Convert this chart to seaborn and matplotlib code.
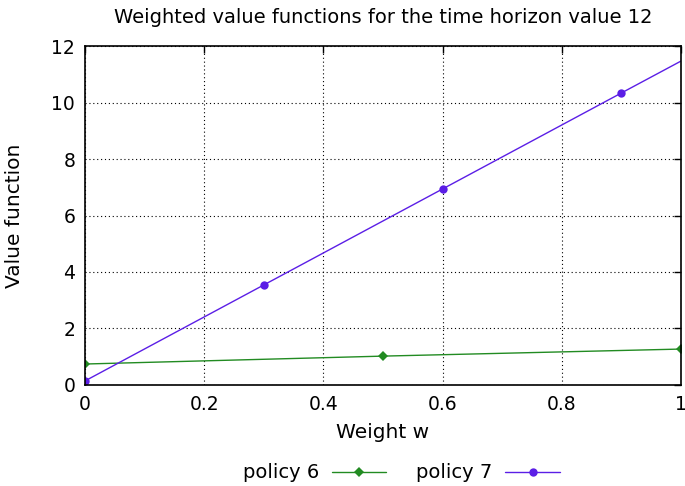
import numpy as np
import pandas as pd
import matplotlib
matplotlib.use("Agg")
import matplotlib.pyplot as plt
import seaborn as sns

# values
weights_p6 = [0.0, 0.5, 1.0]
values_p6 = [0.74, 1.02, 1.27]
weights_p7 = [0.0, 0.3, 0.6, 0.9, 1.0]
values_p7 = [0.14, 3.54, 6.94, 10.34, 11.47]
marked_p7 = [0, 1, 2, 3]

x_ticks = [0, 0.2, 0.4, 0.6, 0.8, 1]
x_tick_labels = ["0", "0.2", "0.4", "0.6", "0.8", "1"]
y_ticks = [0, 2, 4, 6, 8, 10, 12]

GREEN = "#228b22"
PURPLE = "#5b1ee6"

sns.set_style("white")
plt.rcParams['font.family'] = ['DejaVu Sans']
plt.rcParams['text.color'] = 'black'
plt.rcParams['axes.labelcolor'] = 'black'
plt.rcParams['xtick.color'] = 'black'
plt.rcParams['ytick.color'] = 'black'

fig = plt.figure(figsize=(6.85, 4.86), dpi=100)
ax = fig.add_axes([0.124, 0.208, 0.87, 0.697])

df6 = pd.DataFrame({"w": weights_p6, "v": values_p6})
df7 = pd.DataFrame({"w": weights_p7, "v": values_p7})

sns.lineplot(data=df6, x="w", y="v", ax=ax, color=GREEN, lw=1,
             marker="D", markersize=5, markeredgewidth=0, label="policy 6")
sns.lineplot(data=df7, x="w", y="v", ax=ax, color=PURPLE, lw=1,
             marker="o", markersize=6, markeredgewidth=0, markevery=marked_p7,
             label="policy 7")

ax.set_xlim(0, 1)
ax.set_ylim(0, 12)
ax.set_xticks(x_ticks)
ax.set_xticklabels(x_tick_labels)
ax.set_yticks(y_ticks)
ax.tick_params(direction="in", top=True, right=True, labelsize=13.5, length=5,
               width=1, pad=7, color="black")
ax.grid(True, color="black", linestyle=(0, (1, 2.5)), linewidth=0.8)
for s in ax.spines.values():
    s.set_color("black")
    s.set_linewidth(1.2)

ax.set_xlabel("Weight w", fontsize=14.5, labelpad=7)
ax.set_ylabel("Value function", fontsize=14.5, labelpad=20)
ax.set_title("Weighted value functions for the time horizon value 12",
             fontsize=14, pad=17)

handles, labels = ax.get_legend_handles_labels()
ax.get_legend().remove()
fig.legend(handles, labels, loc="center", ncol=2, frameon=False,
           markerfirst=False, fontsize=14, handlelength=2.8,
           handletextpad=0.65, columnspacing=1.55,
           bbox_to_anchor=(0.586, 0.027))

fig.savefig("out.png", dpi=100)
